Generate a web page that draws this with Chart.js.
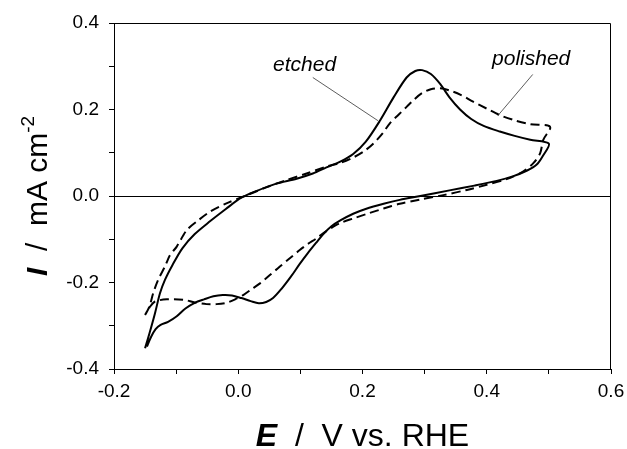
<!DOCTYPE html>
<html>
<head>
<meta charset="utf-8">
<script src="https://cdn.jsdelivr.net/npm/chart.js@4.4.1/dist/chart.umd.min.js"></script>
<style>
  html, body { margin: 0; padding: 0; background: #fff; }
  #wrap { width: 627px; height: 449px; }
</style>
</head>
<body>
<div id="wrap"><canvas id="cv" width="627" height="449"></canvas></div>
<script>
// Zyklovoltammogramm, etched vs. polished
const etchedE = [
  -0.150, -0.143, -0.134, -0.126, -0.118, -0.106, -0.090, -0.070, -0.045, -0.020,
  0.005, 0.030, 0.060, 0.094, 0.120, 0.142, 0.165, 0.185, 0.205, 0.228,
  0.250, 0.271, 0.285, 0.296, 0.310, 0.325, 0.340, 0.357, 0.375, 0.395,
  0.421, 0.445, 0.470, 0.500,
  0.490, 0.480, 0.465, 0.443, 0.416, 0.380, 0.340, 0.293, 0.260, 0.234,
  0.205, 0.185, 0.165, 0.150, 0.137, 0.126, 0.112, 0.099, 0.085, 0.070,
  0.056, 0.045, 0.033, 0.020, 0.005, -0.010, -0.025, -0.040, -0.055, -0.070,
  -0.085, -0.099, -0.113, -0.125, -0.133, -0.140, -0.147
];
const etchedI = [
  -0.352, -0.318, -0.271, -0.225, -0.194, -0.160, -0.121, -0.088, -0.058, -0.030,
  -0.004, 0.012, 0.028, 0.040, 0.052, 0.066, 0.080, 0.097, 0.125, 0.174,
  0.228, 0.274, 0.289, 0.291, 0.282, 0.259, 0.228, 0.200, 0.178, 0.162,
  0.149, 0.139, 0.130, 0.121,
  0.092, 0.072, 0.059, 0.046, 0.035, 0.024, 0.013, 0.000, -0.009, -0.018,
  -0.030, -0.041, -0.056, -0.070, -0.088, -0.107, -0.132, -0.157, -0.186, -0.214,
  -0.236, -0.245, -0.248, -0.243, -0.236, -0.230, -0.229, -0.232, -0.239, -0.247,
  -0.260, -0.278, -0.291, -0.298, -0.308, -0.325, -0.348
];

const polishedE = [
  -0.150, -0.143, -0.137, -0.129, -0.118, -0.110, -0.099, -0.083, -0.065, -0.045,
  -0.019, 0.014, 0.045, 0.078, 0.110, 0.142, 0.165, 0.185, 0.203, 0.218,
  0.232, 0.244, 0.258, 0.271, 0.283, 0.296, 0.310, 0.325, 0.340, 0.358,
  0.378, 0.400, 0.421, 0.445, 0.470, 0.502,
  0.491, 0.486, 0.475, 0.459, 0.432, 0.400, 0.368, 0.330, 0.293, 0.260,
  0.234, 0.210, 0.185, 0.165, 0.153, 0.140, 0.126, 0.112, 0.099, 0.083,
  0.067, 0.050, 0.035, 0.020, 0.008, -0.005, -0.019, -0.035, -0.051, -0.070,
  -0.088, -0.115, -0.134, -0.142, -0.150
];
const polishedI = [
  -0.275, -0.256, -0.225, -0.194, -0.163, -0.137, -0.117, -0.079, -0.057, -0.036,
  -0.017, 0.002, 0.020, 0.037, 0.052, 0.068, 0.077, 0.089, 0.104, 0.122,
  0.144, 0.168, 0.188, 0.206, 0.223, 0.238, 0.247, 0.249, 0.244, 0.234,
  0.218, 0.202, 0.187, 0.175, 0.166, 0.160,
  0.130, 0.099, 0.076, 0.057, 0.039, 0.026, 0.014, 0.002, -0.008, -0.018,
  -0.029, -0.040, -0.052, -0.062, -0.071, -0.083, -0.098, -0.111, -0.125, -0.144,
  -0.163, -0.184, -0.202, -0.217, -0.229, -0.239, -0.247, -0.250, -0.250, -0.246,
  -0.240, -0.239, -0.244, -0.256, -0.275
];

// Achsen
const xMin = -0.2, xMax = 0.6, xStep = 0.1;
const yMin = -0.4, yMax = 0.4, yStep = 0.1;

// Beschriftungen (Text, Position in Daten-Einheiten)
const labelText = ['etched', 'polished'];
const labelE = [0.056, 0.4085];
const labelI = [0.290, 0.304];
const leaderE = [[0.120, 0.225], [0.474, 0.418]];
const leaderI = [[0.274, 0.174], [0.281, 0.186]];

const FONT = '"Liberation Sans", Arial, sans-serif';
Chart.defaults.color = '#000';
Chart.defaults.font.family = FONT;

const toPoints = (xs, ys) => xs.map((x, i) => ({ x: x, y: ys[i] }));

// Rahmen, Nulllinie, Titel und Beschriftungen
const decorPlugin = {
  id: 'decor',
  beforeDatasetsDraw(chart) {
    const { ctx, chartArea, scales } = chart;
    const y0 = Math.round(scales.y.getPixelForValue(0)) + 0.5;
    ctx.save();
    ctx.strokeStyle = '#000';
    ctx.lineWidth = 1;
    ctx.beginPath();
    ctx.moveTo(chartArea.left, y0);
    ctx.lineTo(chartArea.right, y0);
    ctx.stroke();
    ctx.restore();
  },
  afterDraw(chart) {
    const { ctx, chartArea, scales } = chart;
    ctx.save();
    ctx.strokeStyle = '#000';
    ctx.lineWidth = 1;
    ctx.beginPath();
    ctx.moveTo(chartArea.left, chartArea.top + 0.5);
    ctx.lineTo(chartArea.right - 0.5, chartArea.top + 0.5);
    ctx.lineTo(chartArea.right - 0.5, chartArea.bottom);
    ctx.stroke();

    // Beschriftungen mit Hinweislinien
    ctx.fillStyle = '#000';
    ctx.font = 'italic 21px ' + FONT;
    ctx.textAlign = 'left';
    ctx.textBaseline = 'alphabetic';
    labelText.forEach((t, i) => {
      ctx.fillText(t, scales.x.getPixelForValue(labelE[i]), scales.y.getPixelForValue(labelI[i]));
      ctx.beginPath();
      ctx.lineWidth = 0.8;
      ctx.strokeStyle = '#333';
      ctx.moveTo(scales.x.getPixelForValue(leaderE[i][0]), scales.y.getPixelForValue(leaderI[i][0]));
      ctx.lineTo(scales.x.getPixelForValue(leaderE[i][1]), scales.y.getPixelForValue(leaderI[i][1]));
      ctx.stroke();
    });

    // x-Achsentitel
    const cx = (chartArea.left + chartArea.right) / 2;
    const xParts = [
      { t: 'E', f: 'italic bold 32px ' + FONT },
      { t: '  /  V vs. RHE', f: '32px ' + FONT }
    ];
    drawParts(ctx, xParts, cx, 446);

    // y-Achsentitel (gedreht)
    const cy = (chartArea.top + chartArea.bottom) / 2;
    ctx.translate(47, cy);
    ctx.rotate(-Math.PI / 2);
    const yParts = [
      { t: 'I', f: 'italic bold 30px ' + FONT },
      { t: '  /  mA cm', f: '30px ' + FONT },
      { t: '-2', f: '19px ' + FONT, dy: -13 }
    ];
    drawParts(ctx, yParts, 0, 0);
    ctx.restore();
  }
};

function drawParts(ctx, parts, cx, baseY) {
  let total = 0;
  parts.forEach(p => { ctx.font = p.f; p.w = ctx.measureText(p.t).width; total += p.w; });
  let x = cx - total / 2;
  ctx.textAlign = 'left';
  ctx.textBaseline = 'alphabetic';
  parts.forEach(p => {
    ctx.font = p.f;
    ctx.fillText(p.t, x, baseY + (p.dy || 0));
    x += p.w;
  });
}

const tickLabel = (v) => {
  const k = Math.round(v * 10);
  return k % 2 === 0 ? (k / 10).toFixed(1) : '';
};

new Chart(document.getElementById('cv'), {
  type: 'scatter',
  data: {
    datasets: [
      {
        label: 'etched',
        data: toPoints(etchedE, etchedI),
        showLine: true,
        borderColor: '#000',
        borderWidth: 2,
        pointRadius: 0,
        tension: 0.3
      },
      {
        label: 'polished',
        data: toPoints(polishedE, polishedI),
        showLine: true,
        borderColor: '#000',
        borderWidth: 2,
        borderDash: [9, 5],
        pointRadius: 0,
        tension: 0.3
      }
    ]
  },
  options: {
    responsive: false,
    animation: false,
    layout: { padding: { top: 23, right: 0, left: 0, bottom: 0 } },
    plugins: {
      legend: { display: false },
      tooltip: { enabled: false }
    },
    scales: {
      x: {
        type: 'linear',
        min: xMin,
        max: xMax,
        afterFit: (s) => { s.height = 80; s.paddingRight = 16; s.paddingLeft = 0; },
        ticks: {
          stepSize: xStep,
          autoSkip: false,
          maxRotation: 0,
          padding: 6,
          font: { size: 19 },
          callback: tickLabel
        },
        grid: { drawOnChartArea: false, drawTicks: true, tickLength: 5, color: '#000' },
        border: { display: true, color: '#000', width: 1 }
      },
      y: {
        type: 'linear',
        min: yMin,
        max: yMax,
        afterFit: (s) => { s.width = 114; },
        ticks: {
          stepSize: yStep,
          autoSkip: false,
          padding: 10,
          font: { size: 19 },
          callback: tickLabel
        },
        grid: { drawOnChartArea: false, drawTicks: true, tickLength: 5, color: '#000' },
        border: { display: true, color: '#000', width: 1 }
      }
    }
  },
  plugins: [decorPlugin]
});
</script>
</body>
</html>
